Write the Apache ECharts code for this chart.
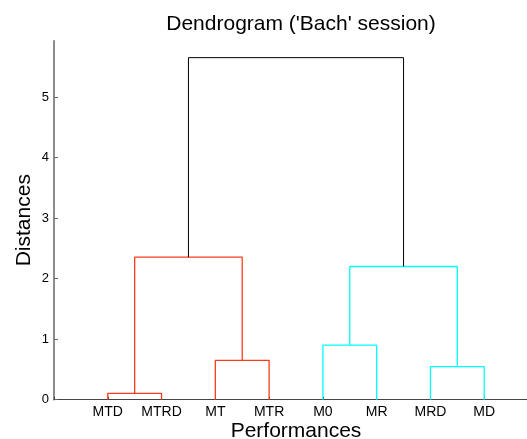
<!DOCTYPE html>
<html>
<head>
<meta charset="utf-8">
<script src="https://cdn.jsdelivr.net/npm/echarts@6/dist/echarts.min.js"></script>
<style>html,body{margin:0;padding:0;background:#fff;}#c{width:527px;height:439px;}</style>
</head>
<body>
<div id="c"></div>
<script>
// Leaves in display order
var leaves = ['MTD', 'MTRD', 'MT', 'MTR', 'M0', 'MR', 'MRD', 'MD'];
// Linkage (MATLAB-style): node ids 1..8 are leaves, new nodes numbered 9..
var mergeA = [1, 3, 7, 5, 9, 12, 13];
var mergeB = [2, 4, 8, 6, 10, 11, 14];
var mergeHeight = [0.106, 0.65, 0.545, 0.90, 2.355, 2.20, 5.65];
var mergeColor = ['#ff3b1e', '#ff3b1e', '#00ffff', '#00ffff', '#ff3b1e', '#00ffff', '#000000'];
var yTicks = [0, 1, 2, 3, 4, 5];
var yMax = 5.93;

var nodeX = {}, nodeH = {};
leaves.forEach(function (n, i) { nodeX[i + 1] = i + 1; nodeH[i + 1] = 0; });
var series = [];
mergeA.forEach(function (a, k) {
  var b = mergeB[k], id = leaves.length + 1 + k, h = mergeHeight[k];
  nodeX[id] = (nodeX[a] + nodeX[b]) / 2; nodeH[id] = h;
  series.push({
    type: 'line', silent: true, symbol: 'none', animation: false,
    lineStyle: { color: mergeColor[k], width: mergeColor[k] === '#000000' ? 1 : 1.3 },
    data: [[nodeX[a], nodeH[a]], [nodeX[a], h], [nodeX[b], h], [nodeX[b], nodeH[b]]]
  });
});

var FONT = 'Liberation Sans, Arial, sans-serif';
var chart = echarts.init(document.getElementById('c'));
chart.setOption({
  animation: false,
  title: {
    text: "Dendrogram ('Bach' session)", left: 296, top: 9, textAlign: 'center',
    textStyle: { fontFamily: FONT, fontSize: 21, fontWeight: 'normal', color: '#000' }
  },
  grid: { left: 54, right: -11, top: 40.7, bottom: 39.3, containLabel: false, outerBoundsMode: 'none' },
  xAxis: {
    type: 'value', min: 0, max: leaves.length + 1, interval: 1,
    name: 'Performances', nameLocation: 'middle', nameGap: 21, nameMoveOverlap: false,
    nameTextStyle: { fontFamily: FONT, fontSize: 21, color: '#000', verticalAlign: 'top' },
    axisLine: { lineStyle: { color: '#444', width: 1.2 } },
    axisTick: { show: true, inside: true, length: 3, lineStyle: { color: '#444' } },
    axisLabel: {
      fontFamily: FONT, fontSize: 14, color: '#000', margin: 5,
      formatter: function (v) { return leaves[v - 1] || ''; }
    },
    splitLine: { show: false }
  },
  yAxis: {
    type: 'value', min: 0, max: yMax, interval: 1,
    name: 'Distances', nameLocation: 'middle', nameGap: 19, nameMoveOverlap: false,
    nameTextStyle: { fontFamily: FONT, fontSize: 21, color: '#000' },
    axisLine: { show: true, lineStyle: { color: '#666', width: 1.5 } },
    axisTick: { show: true, inside: true, length: 4, lineStyle: { color: '#666' } },
    axisLabel: {
      fontFamily: FONT, fontSize: 13, color: '#000', margin: 5,
      showMaxLabel: false,
      formatter: function (v) { return yTicks.indexOf(v) >= 0 ? String(v) : ''; }
    },
    splitLine: { show: false }
  },
  series: series
});
</script>
</body>
</html>
